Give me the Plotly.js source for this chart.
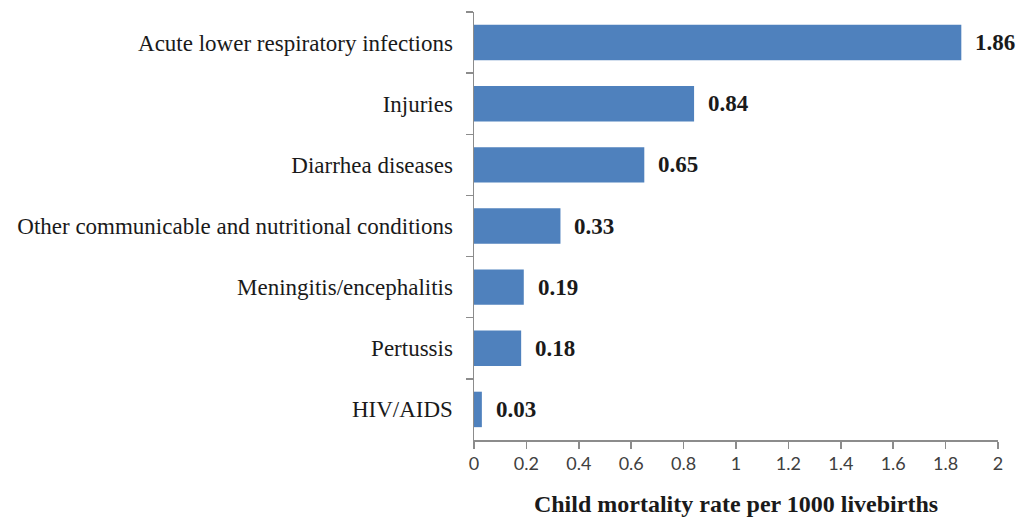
<!DOCTYPE html>
<html><head><meta charset="utf-8">
<script src="https://cdn.plot.ly/plotly-3.0.1.min.js"></script>
<style>html,body{margin:0;padding:0;background:#fff}#c{width:1019px;height:519px}</style>
</head><body><div id="c"></div>
<script>
const categories = ["Acute lower respiratory infections","Injuries","Diarrhea diseases","Other communicable and nutritional conditions","Meningitis/encephalitis","Pertussis","HIV/AIDS"];
const values = [1.86,0.84,0.65,0.33,0.19,0.18,0.03];
const valueLabels = ["1.86","0.84","0.65","0.33","0.19","0.18","0.03"];
const xTickVals = [0,0.2,0.4,0.6,0.8,1,1.2,1.4,1.6,1.8,2];
const xTickText = ["0","0.2","0.4","0.6","0.8","1","1.2","1.4","1.6","1.8","2"];
const xTitle = "Child mortality rate per 1000 livebirths";

const serif = "Liberation Serif, Times New Roman, serif";
const trace = {type:"bar", orientation:"h", x:values, y:categories,
  marker:{color:"#4F81BD"}, width:0.58, hoverinfo:"none"};
const annotations = categories.map((c,i)=>({x:values[i], y:c, xref:"x", yref:"y",
  text:"<b>"+valueLabels[i]+"</b>", showarrow:false, xanchor:"left", xshift:12,
  font:{family:serif, size:23, color:"#1a1a1a"}}));
const layout = {width:1019, height:519, margin:{l:474,r:21,t:12,b:79},
  paper_bgcolor:"#fff", plot_bgcolor:"#fff", showlegend:false,
  annotations:annotations,
  xaxis:{range:[0,2], tickvals:xTickVals, ticktext:xTickText, showgrid:false, zeroline:false,
    showline:true, linecolor:"#8c8c8c", linewidth:1.5, ticks:"outside", ticklen:7, tickcolor:"#8c8c8c", tickwidth:1.5,
    tickfont:{family:"Lato, Carlito, sans-serif", size:18, color:"#404040"},
    title:{text:"<b>"+xTitle+"</b>", font:{family:serif, size:24, color:"#1a1a1a"}, standoff:22}},
  yaxis:{type:"category", autorange:"reversed", showgrid:false, zeroline:false,
    showline:true, linecolor:"#8c8c8c", linewidth:1.5, ticks:"outside", ticklen:7, tickcolor:"#8c8c8c", tickwidth:1.5,
    tickson:"boundaries", ticklabelstandoff:15,
    tickfont:{family:serif, size:23, color:"#1a1a1a"}}
};
Plotly.newPlot("c",[trace],layout,{staticPlot:true});
</script></body></html>
